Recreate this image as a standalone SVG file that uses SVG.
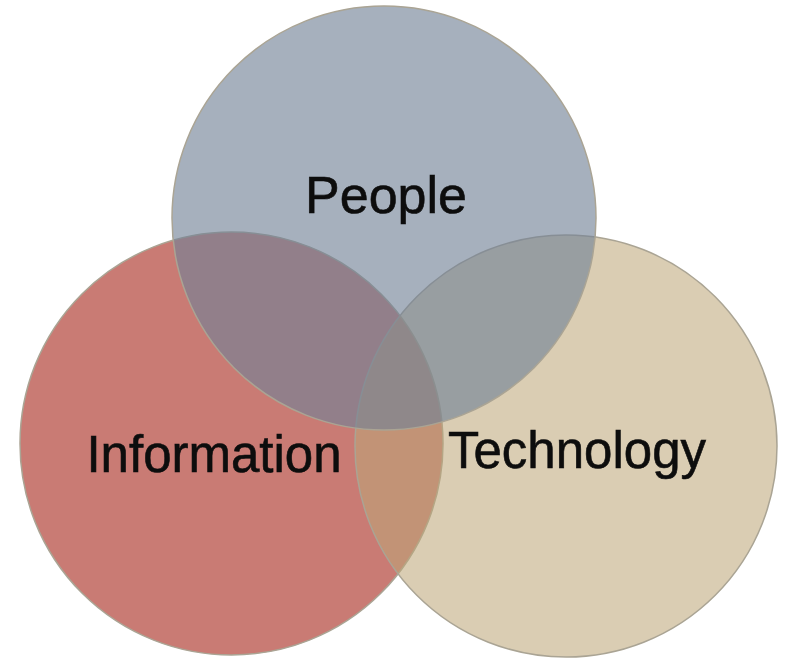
<svg xmlns="http://www.w3.org/2000/svg" width="786" height="663" viewBox="0 0 786 663">
<style>
.c{stroke:#aaa494;stroke-width:1.5}
.t{font-family:"Liberation Sans",Arial,sans-serif;fill:#0d0d0d;stroke:#0d0d0d;stroke-width:0.6;text-anchor:middle}
</style>
<rect width="786" height="663" fill="#fff"/>
<g id="information"><circle class="c" cx="231.5" cy="443.5" r="211.5" fill="#c97b74"/></g>
<g id="technology"><circle class="c" cx="566" cy="446" r="211" fill="rgb(189,166,119)" fill-opacity="0.56"/></g>
<g id="people"><circle class="c" cx="384" cy="218" r="212" fill="rgb(114,130,150)" fill-opacity="0.63"/></g>
<g id="labels">
<text class="t" x="386" y="213" font-size="52">People</text>
<text class="t" x="214" y="472" font-size="51">Information</text>
<text class="t" x="577" y="468" font-size="51">Technology</text>
</g>
<g id="connectors"/>
</svg>
